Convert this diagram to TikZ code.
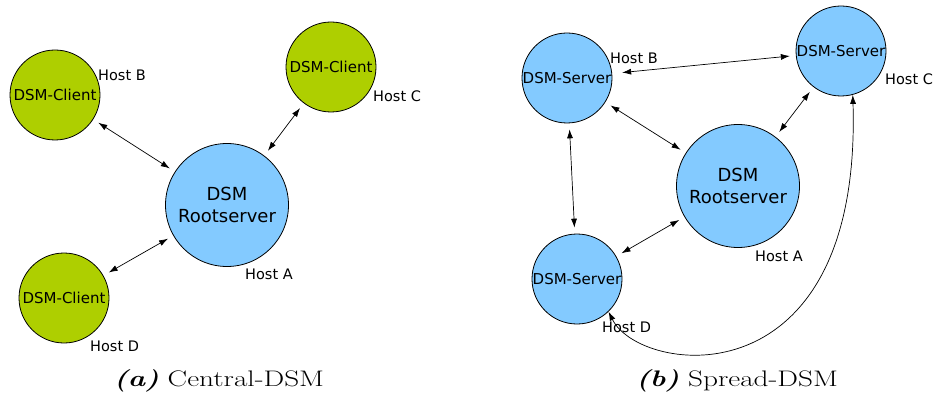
\documentclass[tikz,border=0pt]{standalone}
\usepackage{fontspec}
\setsansfont{DejaVu Sans}
\usetikzlibrary{arrows.meta}
\definecolor{clientgreen}{RGB}{174,207,0}
\definecolor{serverblue}{RGB}{131,202,255}
\newcommand{\captext}[1]{\scalebox{1.3}[1]{#1}}
\begin{document}
\begin{tikzpicture}[x=1pt,y=-1pt,
  host/.style={circle,draw=black,line width=0.8pt,inner sep=0pt,minimum size=90pt,
    font=\sffamily\fontsize{15}{18}\selectfont},
  client/.style={host,fill=clientgreen},
  server/.style={host,fill=serverblue},
  root/.style={host,fill=serverblue,minimum size=123pt,align=center,
    font=\sffamily\fontsize{18}{21.5}\selectfont},
  hostlabel/.style={anchor=west,inner sep=0pt,font=\sffamily\fontsize{14.5}{17}\selectfont},
  link/.style={{Latex[length=9pt,width=6pt]}-{Latex[length=9pt,width=6pt]},line width=0.7pt,
    shorten <=6pt,shorten >=6pt},
  caption/.style={font=\fontsize{22.5}{27}\selectfont}]
\useasboundingbox (0,0) rectangle (933,398);

% ---- (a) central DSM ----
\node[root]   (lA) at (227,205) {DSM\\Rootserver};
\node[client] (lB) at (55,95)   {DSM-Client};
\node[client] (lC) at (331,67)  {DSM-Client};
\node[client] (lD) at (64,298)  {DSM-Client};
\node[hostlabel] (lAl) at (245,274) {Host A};
\node[hostlabel] (lBl) at (98,75)   {Host B};
\node[hostlabel] (lCl) at (373,96)  {Host C};
\node[hostlabel] (lDl) at (90,346)  {Host D};
\draw[link] (lB) -- (lA);
\draw[link] (lC) -- (lA);
\draw[link] (lD) -- (lA);

% ---- (b) spread DSM ----
\node[root]   (rA) at (738,186) {DSM\\Rootserver};
\node[server] (rB) at (567,78)  {DSM-Server};
\node[server] (rC) at (841,51)  {DSM-Server};
\node[server] (rD) at (577,279) {DSM-Server};
\node[hostlabel] (rAl) at (755,256) {Host A};
\node[hostlabel] (rBl) at (610,58)  {Host B};
\node[hostlabel] (rCl) at (885,79)  {Host C};
\node[hostlabel] (rDl) at (602,327) {Host D};
\draw[link,shorten <=10pt] (rB) -- (rC);
\draw[link] (rB) -- (rA);
\draw[link] (rC) -- (rA);
\draw[link] (rB) -- (rD);
\draw[link] (rD) -- (rA);
\draw[link,shorten <=0pt,shorten >=0pt] (rD.-46) .. controls (640,375) and (862,405) .. (rC.-75);

% ---- captions ----
\node[caption] (capA) at (219,381) {\captext{\textbf{\textit{(a)}} Central-DSM}};
\node[caption] (capB) at (737,381) {\captext{\textbf{\textit{(b)}} Spread-DSM}};
\end{tikzpicture}
\end{document}
